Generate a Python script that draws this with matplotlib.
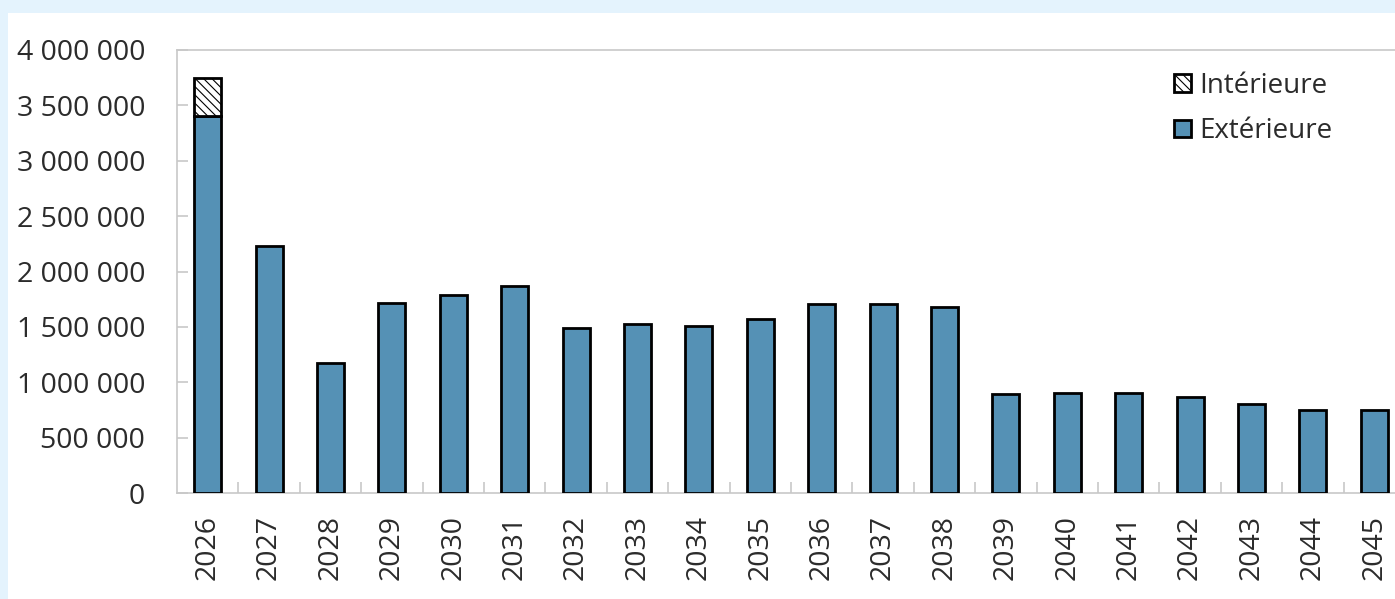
import matplotlib.pyplot as plt
from matplotlib.patches import Rectangle
from matplotlib.ticker import FuncFormatter, MultipleLocator

# Data
years = [str(y) for y in range(2026, 2046)]
exterieure = [3400000, 2230000, 1174000, 1716000, 1790000, 1866000, 1492000,
              1523000, 1511000, 1571000, 1706000, 1706000, 1682000, 891000,
              906000, 906000, 864000, 801000, 747000, 747000]
interieure = [344000] + [0] * 19

plt.rcParams['font.family'] = ['Open Sans', 'DejaVu Sans']
plt.rcParams['hatch.linewidth'] = 0.8

fig = plt.figure(figsize=(13.95, 5.99), dpi=100, facecolor='#e4f3fd')
# white chart area inside the light blue frame
fig.patches.append(Rectangle((8 / 1395, 0), 1, 1 - 13 / 599, transform=fig.transFigure,
                             facecolor='white', edgecolor='none', zorder=-5))

ax = fig.add_axes([177 / 1395, 106 / 599, 1228 / 1395, 443 / 599])
ax.set_facecolor('none')

x = range(len(years))
b1 = ax.bar(x, exterieure, width=0.44, color='#5591b5', edgecolor='black',
            linewidth=2.0, label='Extérieure', zorder=3)
b2 = ax.bar(x, interieure, width=0.44, bottom=exterieure, color='white',
            edgecolor='black', hatch='\\\\\\\\', linewidth=2.0, label='Intérieure', zorder=3)
# remove empty hatched bars
for r, v in zip(b2, interieure):
    if v == 0:
        r.set_visible(False)

ax.set_xlim(-0.5, len(years) - 0.5)
ax.set_ylim(0, 4000000)
ax.yaxis.set_major_locator(MultipleLocator(500000))
ax.yaxis.set_major_formatter(FuncFormatter(lambda v, p: f"{v:,.0f}".replace(",", " ")))

ax.set_xticks(list(x))
ax.set_xticklabels(years, rotation=90)
ax.set_xticks([i + 0.5 for i in range(len(years) - 1)], minor=True)

for s in ['left', 'top', 'bottom']:
    ax.spines[s].set_color('#c8c8c8')
    ax.spines[s].set_linewidth(1.2)
ax.spines['right'].set_visible(False)

ax.tick_params(axis='y', direction='in', length=8, color='#c8c8c8', width=1.2,
               labelsize=20.5, labelcolor='#2b2b2b', pad=23)
ax.tick_params(axis='x', which='major', length=0, labelsize=20.5,
               labelcolor='#2b2b2b', pad=16)
ax.tick_params(axis='x', which='minor', direction='in', length=8,
               color='#c8c8c8', width=1.2)

leg = ax.legend(handles=[b2, b1], loc='upper left', bbox_to_anchor=(1160 / 1395, 1 - 58 / 599),
                bbox_transform=fig.transFigure, frameon=False, fontsize=20,
                handlelength=0.6, handleheight=0.6, handletextpad=0.3,
                labelspacing=0.62, borderpad=0)
for t in leg.get_texts():
    t.set_color('#2b2b2b')

fig.savefig('out.png', dpi=100, facecolor=fig.get_facecolor())
